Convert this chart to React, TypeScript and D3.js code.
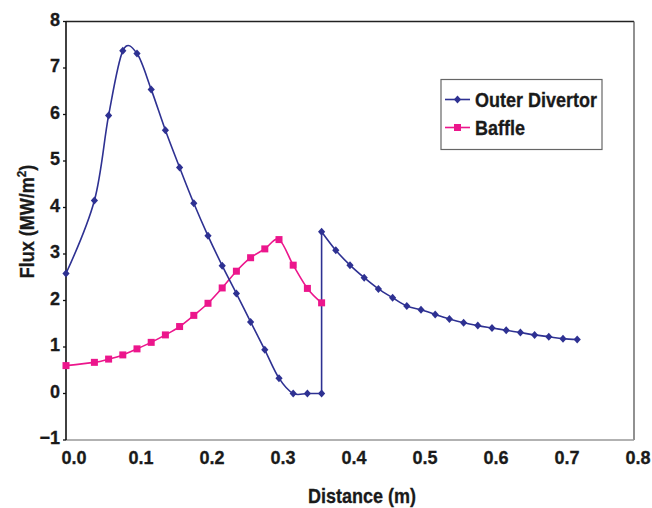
import React from 'react';
import * as d3 from 'd3';

// Baffle and first stretch of the outer divertor share these positions (m)
const distanceInner = [0, 0.04, 0.06, 0.08, 0.1, 0.12, 0.14, 0.16, 0.18, 0.2, 0.22, 0.24, 0.26, 0.28, 0.3, 0.32, 0.34, 0.36];
// outer divertor continues past the step at 0.36 m
const distanceOuter = [0.36, 0.38, 0.4, 0.42, 0.44, 0.46, 0.48, 0.5, 0.52, 0.54, 0.56, 0.58, 0.6, 0.62, 0.64, 0.66, 0.68, 0.7, 0.72];

const divertorInner = [2.58, 4.15, 5.98, 7.37, 7.31, 6.54, 5.66, 4.86, 4.09, 3.39, 2.75, 2.15, 1.54, 0.94, 0.33, 0, 0, 0];
const divertorOuter = [3.48, 3.08, 2.76, 2.49, 2.25, 2.06, 1.88, 1.8, 1.7, 1.6, 1.52, 1.46, 1.41, 1.36, 1.31, 1.26, 1.22, 1.18, 1.16];
const baffle = [0.6, 0.67, 0.74, 0.83, 0.96, 1.1, 1.26, 1.44, 1.68, 1.94, 2.27, 2.63, 2.92, 3.11, 3.31, 2.76, 2.26, 1.95];

const xTicks = [0, 0.1, 0.2, 0.3, 0.4, 0.5, 0.6, 0.7, 0.8];
const yTicks = [-1, 0, 1, 2, 3, 4, 5, 6, 7, 8];

const BLUE = '#2e3192';
const PINK = '#ec168c';
const INK = '#1a1a1a';
const FONT = '"Liberation Sans", Arial, Helvetica, sans-serif';

type Pt = [number, number];

const App: React.FC = () => {
  const width = 652;
  const height = 508;

  const x = d3.scaleLinear().domain([0, 0.8]).range([66, 634]);
  const y = d3.scaleLinear().domain([-1, 8]).range([440, 21.5]);

  const innerPts: Pt[] = distanceInner.map((d, i) => [d, divertorInner[i]] as Pt);
  const outerPts: Pt[] = distanceOuter.map((d, i) => [d, divertorOuter[i]] as Pt);
  const divertorPts: Pt[] = [...innerPts, ...outerPts];
  const bafflePts: Pt[] = distanceInner.map((d, i) => [d, baffle[i]] as Pt);

  // spreadsheet-style smoothing (uniform Catmull-Rom)
  const line = d3
    .line<Pt>()
    .x(d => x(d[0]))
    .y(d => y(d[1]))
    .curve(d3.curveCardinal.tension(0));

  // the step at 0.36 m is drawn as a plain segment so it stays vertical
  const stepPts: Pt[] = [innerPts[innerPts.length - 1], outerPts[0]];
  const straight = d3.line<Pt>().x(d => x(d[0])).y(d => y(d[1]));

  const diamond = (cx: number, cy: number) =>
    `M${cx},${cy - 4}L${cx + 3.6},${cy}L${cx},${cy + 4}L${cx - 3.6},${cy}Z`;

  const [x0, x1] = x.range();
  const [yb, yt] = y.range();

  const textProps = { fill: INK, stroke: INK, strokeWidth: 0.3 };

  return (
    <svg
      width={width}
      height={height}
      style={{ position: 'absolute', left: 0, top: 0, background: '#fff' }}
      fontFamily={FONT}
      fontWeight="bold"
    >
      <rect width={width} height={height} fill="#fff" />

      {/* frame */}
      <line x1={x0} x2={x1} y1={yt} y2={yt} stroke="#222" strokeWidth={1.3} />
      <line x1={x1} x2={x1} y1={yt} y2={yb} stroke="#555" strokeWidth={1.3} />
      <line x1={x0} x2={x1} y1={yb} y2={yb} stroke="#999" strokeWidth={1.3} />
      <line x1={x0} x2={x0} y1={yt} y2={yb} stroke="#111" strokeWidth={1.6} />

      {/* y ticks and labels */}
      {yTicks.map(t => (
        <g key={t}>
          <line x1={x0 - 3} x2={x0} y1={y(t)} y2={y(t)} stroke="#111" strokeWidth={1.3} />
          <text
            transform={`translate(60,${y(t) + 4}) scale(0.95,1)`}
            textAnchor="end"
            fontSize={19}
            {...textProps}
          >
            {t < 0 ? `\u2212${Math.abs(t)}` : t}
          </text>
        </g>
      ))}

      {/* x labels */}
      {xTicks.map(t => (
        <text
          key={t}
          transform={`translate(${x(t) + (t === 0 ? 8 : 4)},${yb + 24}) scale(0.95,1)`}
          textAnchor="middle"
          fontSize={19}
          {...textProps}
        >
          {t.toFixed(1)}
        </text>
      ))}

      {/* axis titles */}
      <text
        transform={`translate(362,503) scale(0.9,1)`}
        textAnchor="middle"
        fontSize={20}
        {...textProps}
      >
        Distance (m)
      </text>
      <text
        transform={`translate(33.5,221.5) rotate(-90) scale(0.9,1)`}
        textAnchor="middle"
        fontSize={20}
        {...textProps}
      >
        Flux (MW/m<tspan fontSize={13} dy={-8}>2</tspan>
        <tspan dy={8}>)</tspan>
      </text>

      {/* series */}
      <path d={line(bafflePts) || ''} fill="none" stroke={PINK} strokeWidth={1.6} />
      <path d={line(innerPts) || ''} fill="none" stroke={BLUE} strokeWidth={1.6} />
      <path d={straight(stepPts) || ''} fill="none" stroke={BLUE} strokeWidth={1.6} />
      <path d={line(outerPts) || ''} fill="none" stroke={BLUE} strokeWidth={1.6} />

      {bafflePts.map((d, i) => (
        <rect
          key={`b${i}`}
          x={x(d[0]) - 3.5}
          y={y(d[1]) - 3.5}
          width={7}
          height={7}
          fill={PINK}
        />
      ))}
      {divertorPts.map((d, i) => (
        <path key={`d${i}`} d={diamond(x(d[0]), y(d[1]))} fill={BLUE} />
      ))}

      {/* legend */}
      <g>
        <rect x={441} y={79.5} width={161} height={70} fill="#fff" stroke="#666" strokeWidth={1.2} />
        <line x1={445} x2={470} y1={99.5} y2={99.5} stroke={BLUE} strokeWidth={1.6} />
        <path d={diamond(457.5, 99.5)} fill={BLUE} />
        <text transform="translate(475,107) scale(0.9,1)" fontSize={20} {...textProps}>
          Outer Divertor
        </text>
        <line x1={445} x2={470} y1={127.5} y2={127.5} stroke={PINK} strokeWidth={1.6} />
        <rect x={454} y={124} width={7} height={7} fill={PINK} />
        <text transform="translate(475,135) scale(0.9,1)" fontSize={20} {...textProps}>
          Baffle
        </text>
      </g>
    </svg>
  );
};

export default App;
